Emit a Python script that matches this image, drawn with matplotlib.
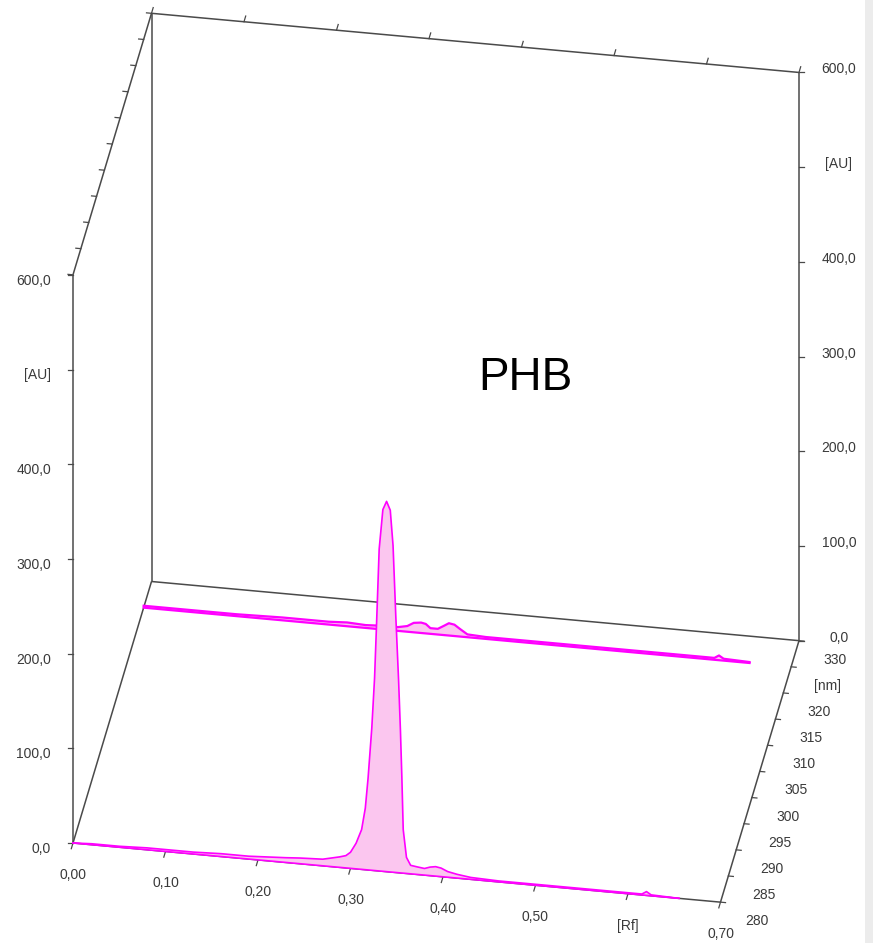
import numpy as np
from matplotlib import pyplot as plt
from matplotlib.patches import Rectangle

# PHB track, densitogram at two wavelengths (oblique 3D view)
rf_ticks = [0.0, 0.1, 0.2, 0.3, 0.4, 0.5, 0.6, 0.7]
rf_labels = ["0,00", "0,10", "0,20", "0,30", "0,40", "0,50", "[Rf]", "0,70"]
au_ticks = [0, 100, 200, 300, 400, 500, 600]
au_labels = ["0,0", "100,0", "200,0", "300,0", "400,0", "[AU]", "600,0"]
nm_ticks = [280, 285, 290, 295, 300, 305, 310, 315, 320, 325, 330]
nm_labels = ["280", "285", "290", "295", "300", "305", "310", "315", "320", "[nm]", "330"]

RF_MAX = 0.7
NM_MIN, NM_MAX = 280, 330
AU_MAX = 600

# track scanned at 280 nm
rf_280 = [0.000, 0.020, 0.050, 0.080, 0.100, 0.130, 0.160, 0.190, 0.210, 0.230,
          0.245, 0.270, 0.288, 0.295, 0.300, 0.306, 0.312, 0.316, 0.319, 0.323,
          0.326, 0.328, 0.331, 0.335, 0.339, 0.343, 0.346, 0.349, 0.352, 0.354,
          0.3555, 0.357, 0.3605, 0.365, 0.372, 0.380, 0.386, 0.392, 0.398, 0.405,
          0.415, 0.430, 0.460, 0.500, 0.550, 0.600, 0.615, 0.620, 0.625, 0.655]
au_280 = [0, 1, 1, 2, 2, 2, 3, 3, 4, 5,
          6, 7, 11, 13, 17, 27, 42, 65, 97, 150,
          203, 256, 340, 382, 391, 382, 345, 270, 203, 150,
          102, 46, 17, 9, 8, 7, 9, 10, 9, 6,
          4, 2, 1, 1, 1, 1, 1, 4, 1, 0]

# same track scanned at 325 nm
rf_325 = [0.000, 0.050, 0.100, 0.150, 0.200, 0.220, 0.240, 0.260, 0.275, 0.285,
          0.292, 0.300, 0.305, 0.310, 0.318, 0.325, 0.330, 0.336, 0.342, 0.350,
          0.370, 0.400, 0.450, 0.500, 0.550, 0.600, 0.617, 0.622, 0.627, 0.655]
au_325 = [2, 2, 2, 3, 3, 4, 3, 4, 4, 6,
          10, 11, 10, 6, 6, 10, 13, 12, 8, 3,
          2, 2, 2, 2, 2, 2, 2, 5, 2, 1]

FRAME = "#4a4a4a"
TEXT = "#3a3a3a"
TRACE = "#ff00ff"
FILL = "#fbc6ef"
LABEL_FONT = ["Liberation Sans", "DejaVu Sans"]


def project(rf, nm, au):
    """Экранные координаты (px) точки (Rf, длина волны, AU)."""
    rf = np.asarray(rf, dtype=float)
    nm = np.asarray(nm, dtype=float)
    au = np.asarray(au, dtype=float)
    x = 73.0 + rf * 925.0 + (nm - NM_MIN) * 1.57
    y = 843.0 + rf * 84.5 - (nm - NM_MIN) * 5.23 - au * 0.947
    return x, y


def edge(ax, p0, p1, **kw):
    x0, y0 = project(*p0)
    x1, y1 = project(*p1)
    ax.plot([x0, x1], [y0, y1], color=FRAME, lw=1.1, solid_capstyle="butt", **kw)


def tick(ax, p, dx, dy):
    x, y = project(*p)
    ax.plot([x, x + dx], [y, y + dy], color=FRAME, lw=0.9, zorder=2)


def trace(ax, rf, au, nm, zorder, lw):
    rf = np.asarray(rf)
    xs, ys = project(rf, nm, au)
    xb, yb = project(rf, nm, np.zeros_like(rf))
    ax.fill(np.r_[xs, xb[::-1]], np.r_[ys, yb[::-1]], color=FILL, lw=0, zorder=zorder)
    ax.plot(xb, yb, color=TRACE, lw=lw, zorder=zorder + 0.1)
    ax.plot(xs, ys, color=TRACE, lw=lw, zorder=zorder + 0.2)


fig = plt.figure(figsize=(8.73, 9.43), dpi=100)
ax = fig.add_axes([0, 0, 1, 1])
ax.set_xlim(0, 873)
ax.set_ylim(943, 0)
ax.axis("off")

# каркас
edge(ax, (0, NM_MIN, 0), (0, NM_MIN, AU_MAX), zorder=1)
edge(ax, (0, NM_MIN, 0), (0, NM_MAX, 0), zorder=1)
edge(ax, (0, NM_MIN, AU_MAX), (0, NM_MAX, AU_MAX), zorder=1)
edge(ax, (0, NM_MAX, 0), (0, NM_MAX, AU_MAX), zorder=1)
edge(ax, (0, NM_MAX, AU_MAX), (RF_MAX, NM_MAX, AU_MAX), zorder=1)
edge(ax, (0, NM_MAX, 0), (RF_MAX, NM_MAX, 0), zorder=1)
edge(ax, (RF_MAX, NM_MAX, 0), (RF_MAX, NM_MAX, AU_MAX), zorder=1)
edge(ax, (RF_MAX, NM_MIN, 0), (RF_MAX, NM_MAX, 0), zorder=1)
edge(ax, (0, NM_MIN, 0), (RF_MAX, NM_MIN, 0), zorder=4)

# шкала AU слева и справа
for v, lab in zip(au_ticks, au_labels):
    tick(ax, (0, NM_MIN, v), -5, 0)
    x, y = project(0, NM_MIN, v)
    ax.text(x - 22, y + 6, lab, ha="right", va="center", fontsize=10,
            color=TEXT, family=LABEL_FONT)
    tick(ax, (RF_MAX, NM_MAX, v), 5, 0)
    x, y = project(RF_MAX, NM_MAX, v)
    ax.text(x + 40, y - 3, lab, ha="center", va="center", fontsize=10,
            color=TEXT, family=LABEL_FONT)

# шкала Rf спереди и сверху сзади
for v, lab in zip(rf_ticks, rf_labels):
    tick(ax, (v, NM_MIN, 0), -1.7, 5.7)
    tick(ax, (v, NM_MAX, AU_MAX), 1.7, -5.7)
    x, y = project(v, NM_MIN, 0)
    ax.text(x, y + 32, lab, ha="center", va="center", fontsize=10,
            color=TEXT, family=LABEL_FONT)

# шкала длин волн
for v, lab in zip(nm_ticks, nm_labels):
    tick(ax, (RF_MAX, v, 0), 5, 0.45)
    tick(ax, (0, v, AU_MAX), -5, -0.45)
    x, y = project(RF_MAX, v, 0)
    ax.text(x + 36, y + 19, lab, ha="center", va="center", fontsize=10,
            color=TEXT, family=LABEL_FONT)

# денситограммы: задняя (325 нм) под передней (280 нм)
trace(ax, rf_325, au_325, 325, zorder=3, lw=1.6)
trace(ax, rf_280, au_280, 280, zorder=5, lw=1.2)

ax.text(525, 378, "PHB", ha="center", va="center", fontsize=33,
        color="black", family=["Liberation Sans", "DejaVu Sans"])

# полоса прокрутки у правого края
ax.add_patch(Rectangle((865, 0), 8, 943, color="#ececec", lw=0, zorder=0))

fig.savefig("out.png", dpi=100)
